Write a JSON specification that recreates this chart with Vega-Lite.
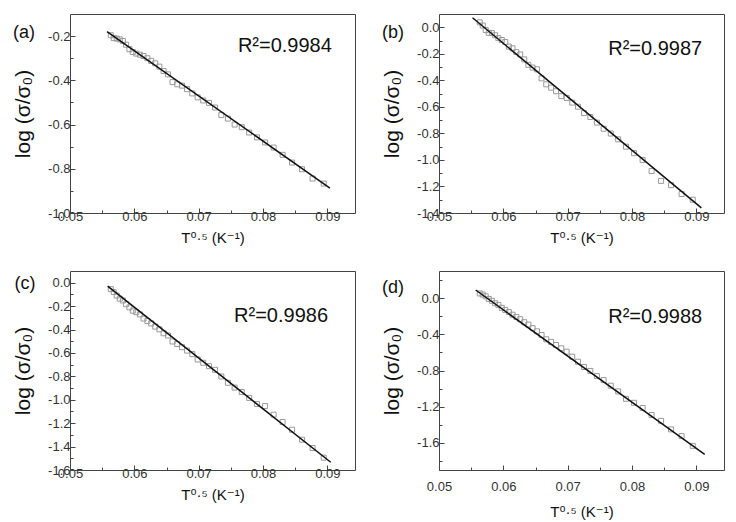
{
  "$schema": "https://vega.github.io/schema/vega-lite/v6.json",
  "padding": {"left": 12, "top": 13, "right": 10, "bottom": 0},
  "background": "white",
  "datasets": {
    "pts": [
      {"p":"a","x":0.05634,"y":-0.196},{"p":"a","x":0.05680,"y":-0.209},{"p":"a","x":0.05726,"y":-0.211},{"p":"a","x":0.05774,"y":-0.215},{"p":"a","x":0.05822,"y":-0.222},{"p":"a","x":0.05872,"y":-0.239},{"p":"a","x":0.05923,"y":-0.259},{"p":"a","x":0.05976,"y":-0.272},{"p":"a","x":0.06030,"y":-0.279},{"p":"a","x":0.06086,"y":-0.284},{"p":"a","x":0.06143,"y":-0.290},{"p":"a","x":0.06202,"y":-0.300},{"p":"a","x":0.06262,"y":-0.312},{"p":"a","x":0.06325,"y":-0.323},{"p":"a","x":0.06389,"y":-0.338},{"p":"a","x":0.06455,"y":-0.358},{"p":"a","x":0.06523,"y":-0.373},{"p":"a","x":0.06594,"y":-0.408},{"p":"a","x":0.06667,"y":-0.418},{"p":"a","x":0.06742,"y":-0.424},{"p":"a","x":0.06820,"y":-0.440},{"p":"a","x":0.06901,"y":-0.459},{"p":"a","x":0.06984,"y":-0.477},{"p":"a","x":0.07071,"y":-0.491},{"p":"a","x":0.07161,"y":-0.502},{"p":"a","x":0.07255,"y":-0.523},{"p":"a","x":0.07352,"y":-0.557},{"p":"a","x":0.07454,"y":-0.573},{"p":"a","x":0.07559,"y":-0.600},{"p":"a","x":0.07670,"y":-0.612},{"p":"a","x":0.07785,"y":-0.636},{"p":"a","x":0.07906,"y":-0.658},{"p":"a","x":0.08032,"y":-0.681},{"p":"a","x":0.08165,"y":-0.704},{"p":"a","x":0.08305,"y":-0.737},{"p":"a","x":0.08452,"y":-0.772},{"p":"a","x":0.08607,"y":-0.802},{"p":"a","x":0.08771,"y":-0.844},{"p":"a","x":0.08944,"y":-0.867},
      {"p":"b","x":0.05634,"y":0.037},{"p":"b","x":0.05680,"y":0.013},{"p":"b","x":0.05726,"y":-0.021},{"p":"b","x":0.05774,"y":-0.042},{"p":"b","x":0.05822,"y":-0.044},{"p":"b","x":0.05872,"y":-0.060},{"p":"b","x":0.05923,"y":-0.082},{"p":"b","x":0.05976,"y":-0.096},{"p":"b","x":0.06030,"y":-0.111},{"p":"b","x":0.06086,"y":-0.146},{"p":"b","x":0.06143,"y":-0.159},{"p":"b","x":0.06202,"y":-0.187},{"p":"b","x":0.06262,"y":-0.205},{"p":"b","x":0.06325,"y":-0.242},{"p":"b","x":0.06389,"y":-0.283},{"p":"b","x":0.06455,"y":-0.304},{"p":"b","x":0.06523,"y":-0.317},{"p":"b","x":0.06594,"y":-0.385},{"p":"b","x":0.06667,"y":-0.430},{"p":"b","x":0.06742,"y":-0.455},{"p":"b","x":0.06820,"y":-0.482},{"p":"b","x":0.06901,"y":-0.519},{"p":"b","x":0.06984,"y":-0.533},{"p":"b","x":0.07071,"y":-0.568},{"p":"b","x":0.07161,"y":-0.599},{"p":"b","x":0.07255,"y":-0.647},{"p":"b","x":0.07352,"y":-0.676},{"p":"b","x":0.07454,"y":-0.719},{"p":"b","x":0.07559,"y":-0.765},{"p":"b","x":0.07670,"y":-0.801},{"p":"b","x":0.07785,"y":-0.845},{"p":"b","x":0.07906,"y":-0.900},{"p":"b","x":0.08032,"y":-0.949},{"p":"b","x":0.08165,"y":-1.000},{"p":"b","x":0.08305,"y":-1.084},{"p":"b","x":0.08452,"y":-1.158},{"p":"b","x":0.08607,"y":-1.190},{"p":"b","x":0.08771,"y":-1.257},{"p":"b","x":0.08944,"y":-1.300},
      {"p":"c","x":0.05634,"y":-0.055},{"p":"c","x":0.05680,"y":-0.080},{"p":"c","x":0.05726,"y":-0.110},{"p":"c","x":0.05774,"y":-0.136},{"p":"c","x":0.05822,"y":-0.152},{"p":"c","x":0.05872,"y":-0.184},{"p":"c","x":0.05923,"y":-0.211},{"p":"c","x":0.05976,"y":-0.239},{"p":"c","x":0.06030,"y":-0.252},{"p":"c","x":0.06086,"y":-0.271},{"p":"c","x":0.06143,"y":-0.306},{"p":"c","x":0.06202,"y":-0.327},{"p":"c","x":0.06262,"y":-0.348},{"p":"c","x":0.06325,"y":-0.375},{"p":"c","x":0.06389,"y":-0.398},{"p":"c","x":0.06455,"y":-0.432},{"p":"c","x":0.06523,"y":-0.451},{"p":"c","x":0.06594,"y":-0.502},{"p":"c","x":0.06667,"y":-0.524},{"p":"c","x":0.06742,"y":-0.551},{"p":"c","x":0.06820,"y":-0.580},{"p":"c","x":0.06901,"y":-0.610},{"p":"c","x":0.06984,"y":-0.656},{"p":"c","x":0.07071,"y":-0.684},{"p":"c","x":0.07161,"y":-0.713},{"p":"c","x":0.07255,"y":-0.744},{"p":"c","x":0.07352,"y":-0.801},{"p":"c","x":0.07454,"y":-0.855},{"p":"c","x":0.07559,"y":-0.896},{"p":"c","x":0.07670,"y":-0.934},{"p":"c","x":0.07785,"y":-0.984},{"p":"c","x":0.07906,"y":-1.036},{"p":"c","x":0.08032,"y":-1.054},{"p":"c","x":0.08165,"y":-1.127},{"p":"c","x":0.08305,"y":-1.190},{"p":"c","x":0.08452,"y":-1.256},{"p":"c","x":0.08607,"y":-1.341},{"p":"c","x":0.08771,"y":-1.412},{"p":"c","x":0.08944,"y":-1.495},
      {"p":"d","x":0.05634,"y":0.052},{"p":"d","x":0.05680,"y":0.039},{"p":"d","x":0.05726,"y":0.020},{"p":"d","x":0.05774,"y":-0.009},{"p":"d","x":0.05822,"y":-0.029},{"p":"d","x":0.05872,"y":-0.056},{"p":"d","x":0.05923,"y":-0.075},{"p":"d","x":0.05976,"y":-0.107},{"p":"d","x":0.06030,"y":-0.130},{"p":"d","x":0.06086,"y":-0.154},{"p":"d","x":0.06143,"y":-0.183},{"p":"d","x":0.06202,"y":-0.208},{"p":"d","x":0.06262,"y":-0.233},{"p":"d","x":0.06325,"y":-0.266},{"p":"d","x":0.06389,"y":-0.293},{"p":"d","x":0.06455,"y":-0.332},{"p":"d","x":0.06523,"y":-0.367},{"p":"d","x":0.06594,"y":-0.408},{"p":"d","x":0.06667,"y":-0.455},{"p":"d","x":0.06742,"y":-0.484},{"p":"d","x":0.06820,"y":-0.518},{"p":"d","x":0.06901,"y":-0.555},{"p":"d","x":0.06984,"y":-0.592},{"p":"d","x":0.07071,"y":-0.647},{"p":"d","x":0.07161,"y":-0.703},{"p":"d","x":0.07255,"y":-0.761},{"p":"d","x":0.07352,"y":-0.805},{"p":"d","x":0.07454,"y":-0.862},{"p":"d","x":0.07559,"y":-0.906},{"p":"d","x":0.07670,"y":-0.968},{"p":"d","x":0.07785,"y":-1.031},{"p":"d","x":0.07906,"y":-1.113},{"p":"d","x":0.08032,"y":-1.157},{"p":"d","x":0.08165,"y":-1.215},{"p":"d","x":0.08305,"y":-1.292},{"p":"d","x":0.08452,"y":-1.357},{"p":"d","x":0.08607,"y":-1.451},{"p":"d","x":0.08771,"y":-1.525},{"p":"d","x":0.08944,"y":-1.633}
    ],
    "fit": [
      {"p":"a","x":0.05575,"y":-0.180},{"p":"a","x":0.0904,"y":-0.887},
      {"p":"b","x":0.05521,"y":0.072},{"p":"b","x":0.09078,"y":-1.361},
      {"p":"c","x":0.05585,"y":-0.029},{"p":"c","x":0.09053,"y":-1.534},
      {"p":"d","x":0.0557,"y":0.090},{"p":"d","x":0.0913,"y":-1.728}
    ],
    "ann": [
      {"p":"a","x":0.0761,"y":-0.2445,"label":"R²=0.9984"},
      {"p":"b","x":0.0763,"y":-0.163,"label":"R²=0.9987"},
      {"p":"c","x":0.0755,"y":-0.287,"label":"R²=0.9986"},
      {"p":"d","x":0.0763,"y":-0.212,"label":"R²=0.9988"}
    ],
    "tags": [
      {"p":"a","x":0.04286,"y":-0.186,"label":"(a)"},
      {"p":"b","x":0.04286,"y":-0.043,"label":"(b)"},
      {"p":"c","x":0.04301,"y":-0.0136,"label":"(c)"},
      {"p":"d","x":0.04286,"y":0.109,"label":"(d)"}
    ]
  },
  "columns": 2,
  "spacing": {"row": 58, "column": 84},
  "bounds": "flush",
  "concat": [
    {
      "width": 285, "height": 199,
      "layer": [
        {"data": {"name": "pts"}, "transform": [{"filter": "datum.p == 'a'"}],
         "mark": {"type": "point", "shape": "square", "filled": false, "size": 25, "stroke": "#9a9a9a", "strokeWidth": 1, "opacity": 1},
         "encoding": {
           "x": {"field": "x", "type": "quantitative", "scale": {"domain": [0.05, 0.0943], "nice": false, "zero": false},
                 "axis": {"title": "T⁰·⁵ (K⁻¹)", "values": [0.05,0.055,0.06,0.065,0.07,0.075,0.08,0.085,0.09], "tickCount": 100, "labelPadding": 2, "titlePadding": 5, "labelOverlap": false, "labelFlush": false,
                          "labelExpr": "abs(datum.value*100-round(datum.value*100))<0.001 ? format(datum.value,'.2f') : ''",
                          "tickSize": {"condition": {"test": "abs(datum.value*100-round(datum.value*100))<0.001", "value": -5}, "value": -3}}},
           "y": {"field": "y", "type": "quantitative", "scale": {"domain": [-1.0, -0.1], "nice": false, "zero": false},
                 "axis": {"title": "log (σ/σ₀)", "values": [-1.0,-0.9,-0.8,-0.7,-0.6,-0.5,-0.4,-0.3,-0.2], "tickCount": 100, "labelOverlap": false, "labelFlush": false,
                          "labelExpr": "abs(datum.value*5-round(datum.value*5))<0.001 ? replace(format(datum.value,'.1f'),'−','-') : ''",
                          "tickSize": {"condition": {"test": "abs(datum.value*5-round(datum.value*5))<0.001", "value": -5}, "value": -3}}}
         }},
        {"data": {"name": "fit"}, "transform": [{"filter": "datum.p == 'a'"}],
         "mark": {"type": "line", "color": "#111111", "strokeWidth": 1.5},
         "encoding": {"x": {"field": "x", "type": "quantitative"}, "y": {"field": "y", "type": "quantitative"}}},
        {"data": {"name": "ann"}, "transform": [{"filter": "datum.p == 'a'"}],
         "mark": {"type": "text", "align": "left", "baseline": "middle", "fontSize": 20, "font": "Liberation Sans", "color": "#111111"},
         "encoding": {"x": {"field": "x", "type": "quantitative"}, "y": {"field": "y", "type": "quantitative"}, "text": {"field": "label"}}},
        {"data": {"name": "tags"}, "transform": [{"filter": "datum.p == 'a'"}],
         "mark": {"type": "text", "align": "center", "baseline": "middle", "fontSize": 18, "font": "Liberation Sans", "color": "#111111"},
         "encoding": {"x": {"field": "x", "type": "quantitative"}, "y": {"field": "y", "type": "quantitative"}, "text": {"field": "label"}}}
      ]
    },
    {
      "width": 285, "height": 199,
      "layer": [
        {"data": {"name": "pts"}, "transform": [{"filter": "datum.p == 'b'"}],
         "mark": {"type": "point", "shape": "square", "filled": false, "size": 25, "stroke": "#9a9a9a", "strokeWidth": 1, "opacity": 1},
         "encoding": {
           "x": {"field": "x", "type": "quantitative", "scale": {"domain": [0.05, 0.0943], "nice": false, "zero": false},
                 "axis": {"title": "T⁰·⁵ (K⁻¹)", "values": [0.05,0.055,0.06,0.065,0.07,0.075,0.08,0.085,0.09], "tickCount": 100, "labelPadding": 2, "titlePadding": 5, "labelOverlap": false, "labelFlush": false,
                          "labelExpr": "abs(datum.value*100-round(datum.value*100))<0.001 ? format(datum.value,'.2f') : ''",
                          "tickSize": {"condition": {"test": "abs(datum.value*100-round(datum.value*100))<0.001", "value": -5}, "value": -3}}},
           "y": {"field": "y", "type": "quantitative", "scale": {"domain": [-1.4, 0.1], "nice": false, "zero": false},
                 "axis": {"title": "log (σ/σ₀)", "values": [-1.4,-1.3,-1.2,-1.1,-1.0,-0.9,-0.8,-0.7,-0.6,-0.5,-0.4,-0.3,-0.2,-0.1,0.0], "tickCount": 100, "labelOverlap": false, "labelFlush": false,
                          "labelExpr": "abs(datum.value*5-round(datum.value*5))<0.001 ? replace(format(datum.value,'.1f'),'−','-') : ''",
                          "tickSize": {"condition": {"test": "abs(datum.value*5-round(datum.value*5))<0.001", "value": -5}, "value": -3}}}
         }},
        {"data": {"name": "fit"}, "transform": [{"filter": "datum.p == 'b'"}],
         "mark": {"type": "line", "color": "#111111", "strokeWidth": 1.5},
         "encoding": {"x": {"field": "x", "type": "quantitative"}, "y": {"field": "y", "type": "quantitative"}}},
        {"data": {"name": "ann"}, "transform": [{"filter": "datum.p == 'b'"}],
         "mark": {"type": "text", "align": "left", "baseline": "middle", "fontSize": 20, "font": "Liberation Sans", "color": "#111111"},
         "encoding": {"x": {"field": "x", "type": "quantitative"}, "y": {"field": "y", "type": "quantitative"}, "text": {"field": "label"}}},
        {"data": {"name": "tags"}, "transform": [{"filter": "datum.p == 'b'"}],
         "mark": {"type": "text", "align": "center", "baseline": "middle", "fontSize": 18, "font": "Liberation Sans", "color": "#111111"},
         "encoding": {"x": {"field": "x", "type": "quantitative"}, "y": {"field": "y", "type": "quantitative"}, "text": {"field": "label"}}}
      ]
    },
    {
      "width": 285, "height": 199,
      "layer": [
        {"data": {"name": "pts"}, "transform": [{"filter": "datum.p == 'c'"}],
         "mark": {"type": "point", "shape": "square", "filled": false, "size": 25, "stroke": "#9a9a9a", "strokeWidth": 1, "opacity": 1},
         "encoding": {
           "x": {"field": "x", "type": "quantitative", "scale": {"domain": [0.05, 0.0943], "nice": false, "zero": false},
                 "axis": {"title": "T⁰·⁵ (K⁻¹)", "values": [0.05,0.055,0.06,0.065,0.07,0.075,0.08,0.085,0.09], "tickCount": 100, "labelPadding": 2, "titlePadding": 5, "labelOverlap": false, "labelFlush": false,
                          "labelExpr": "abs(datum.value*100-round(datum.value*100))<0.001 ? format(datum.value,'.2f') : ''",
                          "tickSize": {"condition": {"test": "abs(datum.value*100-round(datum.value*100))<0.001", "value": -5}, "value": -3}}},
           "y": {"field": "y", "type": "quantitative", "scale": {"domain": [-1.6, 0.1], "nice": false, "zero": false},
                 "axis": {"title": "log (σ/σ₀)", "values": [-1.6,-1.5,-1.4,-1.3,-1.2,-1.1,-1.0,-0.9,-0.8,-0.7,-0.6,-0.5,-0.4,-0.3,-0.2,-0.1,0.0], "tickCount": 100, "labelOverlap": false, "labelFlush": false,
                          "labelExpr": "abs(datum.value*5-round(datum.value*5))<0.001 ? replace(format(datum.value,'.1f'),'−','-') : ''",
                          "tickSize": {"condition": {"test": "abs(datum.value*5-round(datum.value*5))<0.001", "value": -5}, "value": -3}}}
         }},
        {"data": {"name": "fit"}, "transform": [{"filter": "datum.p == 'c'"}],
         "mark": {"type": "line", "color": "#111111", "strokeWidth": 1.5},
         "encoding": {"x": {"field": "x", "type": "quantitative"}, "y": {"field": "y", "type": "quantitative"}}},
        {"data": {"name": "ann"}, "transform": [{"filter": "datum.p == 'c'"}],
         "mark": {"type": "text", "align": "left", "baseline": "middle", "fontSize": 20, "font": "Liberation Sans", "color": "#111111"},
         "encoding": {"x": {"field": "x", "type": "quantitative"}, "y": {"field": "y", "type": "quantitative"}, "text": {"field": "label"}}},
        {"data": {"name": "tags"}, "transform": [{"filter": "datum.p == 'c'"}],
         "mark": {"type": "text", "align": "center", "baseline": "middle", "fontSize": 18, "font": "Liberation Sans", "color": "#111111"},
         "encoding": {"x": {"field": "x", "type": "quantitative"}, "y": {"field": "y", "type": "quantitative"}, "text": {"field": "label"}}}
      ]
    },
    {
      "width": 285, "height": 199,
      "layer": [
        {"data": {"name": "pts"}, "transform": [{"filter": "datum.p == 'd'"}],
         "mark": {"type": "point", "shape": "square", "filled": false, "size": 25, "stroke": "#9a9a9a", "strokeWidth": 1, "opacity": 1},
         "encoding": {
           "x": {"field": "x", "type": "quantitative", "scale": {"domain": [0.05, 0.0943], "nice": false, "zero": false},
                 "axis": {"title": "T⁰·⁵ (K⁻¹)", "values": [0.05,0.055,0.06,0.065,0.07,0.075,0.08,0.085,0.09], "tickCount": 100, "labelPadding": 15, "titlePadding": 9, "labelOverlap": false, "labelFlush": false,
                          "labelExpr": "abs(datum.value*100-round(datum.value*100))<0.001 ? format(datum.value,'.2f') : ''",
                          "tickSize": {"condition": {"test": "abs(datum.value*100-round(datum.value*100))<0.001", "value": -5}, "value": -3}}},
           "y": {"field": "y", "type": "quantitative", "scale": {"domain": [-1.9, 0.3], "nice": false, "zero": false},
                 "axis": {"title": "log (σ/σ₀)", "values": [-1.8,-1.6,-1.4,-1.2,-1.0,-0.8,-0.6,-0.4,-0.2,0.0,0.2], "tickCount": 100, "labelOverlap": false, "labelFlush": false,
                          "labelExpr": "abs(datum.value*2.5-round(datum.value*2.5))<0.001 ? replace(format(datum.value,'.1f'),'−','-') : ''",
                          "tickSize": {"condition": {"test": "abs(datum.value*2.5-round(datum.value*2.5))<0.001", "value": -5}, "value": -3}}}
         }},
        {"data": {"name": "fit"}, "transform": [{"filter": "datum.p == 'd'"}],
         "mark": {"type": "line", "color": "#111111", "strokeWidth": 1.5},
         "encoding": {"x": {"field": "x", "type": "quantitative"}, "y": {"field": "y", "type": "quantitative"}}},
        {"data": {"name": "ann"}, "transform": [{"filter": "datum.p == 'd'"}],
         "mark": {"type": "text", "align": "left", "baseline": "middle", "fontSize": 20, "font": "Liberation Sans", "color": "#111111"},
         "encoding": {"x": {"field": "x", "type": "quantitative"}, "y": {"field": "y", "type": "quantitative"}, "text": {"field": "label"}}},
        {"data": {"name": "tags"}, "transform": [{"filter": "datum.p == 'd'"}],
         "mark": {"type": "text", "align": "center", "baseline": "middle", "fontSize": 18, "font": "Liberation Sans", "color": "#111111"},
         "encoding": {"x": {"field": "x", "type": "quantitative"}, "y": {"field": "y", "type": "quantitative"}, "text": {"field": "label"}}}
      ]
    }
  ],
  "config": {
    "font": "Liberation Sans",
    "view": {"stroke": "#444444", "strokeWidth": 1},
    "axis": {"domain": false, "grid": false, "tickColor": "#444444", "tickWidth": 1,
             "labelFont": "Liberation Sans", "labelFontSize": 13, "labelColor": "#333333", "labelOverlap": false, "labelFlush": false,
             "titleFont": "Liberation Sans, DejaVu Sans", "titleFontWeight": "normal", "titleColor": "#111111"},
    "axisX": {"titleFontSize": 15},
    "axisY": {"titleFontSize": 21, "labelPadding": 5, "titlePadding": 14}
  }
}
